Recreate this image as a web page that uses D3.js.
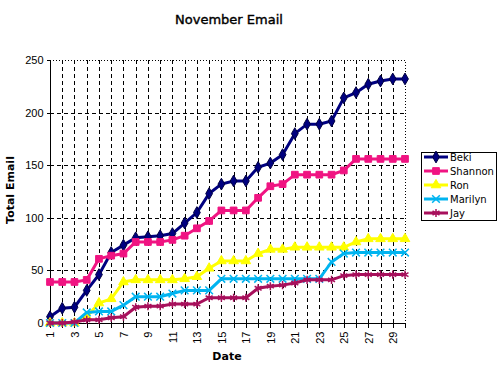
<!DOCTYPE html>
<html>
<head>
<meta charset="utf-8">
<script src="https://cdn.jsdelivr.net/npm/d3@7"></script>
<style>
  body { margin: 0; background: #fff; }
  svg { display: block; font-family: "DejaVu Sans", sans-serif; }
  .axis path, .axis line { stroke: #000; shape-rendering: crispEdges; }
  .axis text { font-size: 11px; fill: #000; }
  .grid line { stroke: #000; stroke-dasharray: 4,3; shape-rendering: crispEdges; }
</style>
</head>
<body>
<svg id="chart" width="500" height="375"></svg>
<script>
// days of november
const days = [1,2,3,4,5,6,7,8,9,10,11,12,13,14,15,16,17,18,19,20,21,22,23,24,25,26,27,28,29,30];
const yTicks = [0, 50, 100, 150, 200, 250];

// running totals per person
const beki    = [6,14,15,31,46,67,74,81,82,83,85,95,105,123,132,135,135,148,152,160,180,189,189,192,214,219,227,230,232,232];
const shannon = [39,39,39,41,61,64,66,77,77,77,79,83,90,97,107,107,107,119,130,132,141,141,141,141,145,156,156,156,156,156];
const ron     = [0,0,0,6,19,23,39,41,41,41,41,42,44,52,59,59,59,66,70,70,72,72,72,72,72,77,80,80,80,80];
const marilyn = [0,0,0,10,11,11,17,25,25,25,28,31,31,31,42,42,42,42,42,42,42,42,42,58,66,67,67,67,67,67];
const jay     = [0,0,1,3,3,5,6,15,16,16,18,18,18,24,24,24,24,33,35,36,38,41,41,41,45,46,46,46,46,46];

const names = ["Beki", "Shannon", "Ron", "Marilyn", "Jay"];
const values = [beki, shannon, ron, marilyn, jay];

// look of each series
const styles = [
  { color: "#000080", symbol: d3.symbolDiamond, size: 40, fill: true },
  { color: "#f01482", symbol: d3.symbolSquare, size: 45, fill: true },
  { color: "#ffff00", symbol: d3.symbolTriangle, size: 40, fill: true },
  { color: "#00b4f0", symbol: d3.symbolTimes, size: 40, fill: false },
  { color: "#a8105c", symbol: d3.symbolAsterisk, size: 45, fill: false }
];

const pLeft = 50, pRight = 405, pTop = 60, pBottom = 323;

const x = d3.scalePoint().domain(days).range([pLeft, pRight]);
const y = d3.scaleLinear().domain([0, 250]).range([pBottom, pTop]);

const svg = d3.select("#chart");

// gridlines
svg.append("g")
  .attr("class", "grid")
  .selectAll("line")
  .data(days.slice(1, -1))
  .enter()
  .append("line")
  .attr("x1", d => x(d) + 0.5).attr("x2", d => x(d) + 0.5)
  .attr("y1", pTop).attr("y2", pBottom);

svg.append("g")
  .attr("class", "grid")
  .selectAll("line")
  .data(yTicks.slice(1, -1))
  .enter()
  .append("line")
  .attr("x1", pLeft).attr("x2", pRight)
  .attr("y1", d => y(d) + 0.5).attr("y2", d => y(d) + 0.5);

// dotted top and right border
svg.append("path")
  .attr("d", `M${pLeft},${y(250) + 0.5}H${x(30) + 0.5}V${pBottom}`)
  .attr("fill", "none")
  .attr("stroke", "#000")
  .attr("stroke-dasharray", "1,2")
  .style("shape-rendering", "crispEdges");

// axes
svg.append("g")
  .attr("class", "axis")
  .attr("transform", `translate(${pLeft + 0.5},0)`)
  .call(d3.axisLeft(y).tickValues(yTicks).tickSize(4).tickPadding(3))
  .call(g => g.select(".domain").attr("d", `M0,${pTop}V${pBottom}`));

const xg = svg.append("g")
  .attr("class", "axis")
  .attr("transform", `translate(0,${pBottom + 0.5})`)
  .call(d3.axisBottom(x).tickSize(4).tickFormat(d => d % 2 ? d : ""))
  .call(g => g.select(".domain").attr("d", `M${pLeft},0H${pRight + 0.5}`));

xg.selectAll("text")
  .attr("transform", "rotate(-90)")
  .attr("text-anchor", "end")
  .attr("x", -8)
  .attr("y", 0)
  .attr("dy", "0.35em");

// series
const line = d3.line().x((d, i) => x(days[i])).y(d => y(d));

values.forEach((vals, k) => {
  const st = styles[k];
  const g = svg.append("g");
  g.append("path")
    .datum(vals)
    .attr("d", line)
    .attr("fill", "none")
    .attr("stroke", st.color)
    .attr("stroke-width", 3);
  g.selectAll("path.mark")
    .data(vals)
    .enter()
    .append("path")
    .attr("class", "mark")
    .attr("transform", (d, i) => `translate(${x(days[i])},${y(d)})`)
    .attr("d", d3.symbol().type(st.symbol).size(st.size))
    .attr("fill", st.fill ? st.color : "none")
    .attr("stroke", st.fill ? (k === 0 ? "#000040" : st.color) : st.color)
    .attr("stroke-width", st.fill ? 1 : 1.5);
});

// titles
svg.append("text")
  .attr("x", 229)
  .attr("y", 24)
  .attr("text-anchor", "middle")
  .style("font-size", "13px")
  .style("stroke", "#000")
  .style("stroke-width", 0.4)
  .text("November Email");

svg.append("text")
  .attr("x", 227)
  .attr("y", 360)
  .attr("text-anchor", "middle")
  .style("font-size", "11px")
  .style("font-weight", "bold")
  .text("Date");

svg.append("text")
  .attr("transform", "rotate(-90)")
  .attr("x", -190)
  .attr("y", 14)
  .attr("text-anchor", "middle")
  .style("font-size", "11px")
  .style("font-weight", "bold")
  .text("Total Email");

// legend
const legend = svg.append("g").attr("transform", "translate(421,152)");
legend.append("rect")
  .attr("x", 0.5).attr("y", 0.5)
  .attr("width", 75).attr("height", 68)
  .attr("fill", "#fff")
  .attr("stroke", "#000");

names.forEach((name, k) => {
  const st = styles[k];
  const ly = 5 + k * 14;
  const row = legend.append("g").attr("transform", `translate(0,${ly})`);
  row.append("line")
    .attr("x1", 3).attr("x2", 27)
    .attr("y1", 0).attr("y2", 0)
    .attr("stroke", st.color)
    .attr("stroke-width", 3);
  row.append("path")
    .attr("transform", "translate(15,0)")
    .attr("d", d3.symbol().type(st.symbol).size(st.size))
    .attr("fill", st.fill ? st.color : "none")
    .attr("stroke", st.fill ? (k === 0 ? "#000040" : st.color) : st.color)
    .attr("stroke-width", st.fill ? 1 : 1.5);
  row.append("text")
    .attr("x", 29)
    .attr("y", 0)
    .attr("dy", "0.35em")
    .style("font-size", "10px")
    .text(name);
});
</script>
</body>
</html>
